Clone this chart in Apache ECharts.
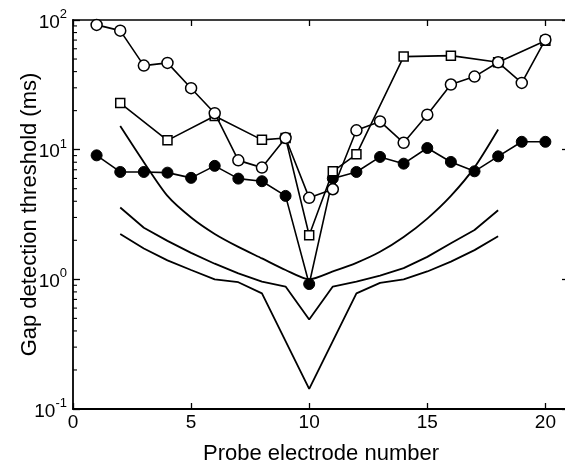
<!DOCTYPE html>
<html>
<head>
<meta charset="utf-8">
<script src="https://cdn.jsdelivr.net/npm/echarts@6/dist/echarts.min.js"></script>
<style>
html,body{margin:0;padding:0;background:#fff;}
#c{width:565px;height:464px;}
</style>
</head>
<body>
<div id="c"></div>
<script>
// ---- data ----
const xTickLabels = [0, 5, 10, 15, 20];
const yTickValues = [0.1, 1, 10, 100];

const openCircleX = [1,2,3,4,5,6,7,8,9,10,11,12,13,14,15,16,17,18,19,20];
const openCircleY = [91.7,82.8,44.5,46.7,29.8,19.1,8.27,7.27,12.3,4.25,4.95,14.1,16.5,11.3,18.6,31.8,36.6,47.2,32.7,70.5];

const openSquareX = [2,4,6,8,9,10,11,12,14,16,18,20];
const openSquareY = [22.9,11.8,18.2,11.9,12.3,2.19,6.81,9.2,52.2,53.1,47.2,69.3];

const filledCircleX = [1,2,3,4,5,6,7,8,9,10,11,12,13,14,15,16,17,18,19,20];
const filledCircleY = [9.04,6.73,6.73,6.65,6.06,7.5,5.98,5.71,4.4,0.92,6.0,6.73,8.79,7.8,10.3,8.04,6.81,8.88,11.5,11.5];

const curveX = [2,3,4,5,6,7,8,9,10,11,12,13,14,15,16,17,18];
const curveUpper = [15.2,8.0,4.4,3.0,2.24,1.78,1.45,1.18,1.0,1.15,1.34,1.63,2.12,2.94,4.4,7.3,14.3];
const curveMiddle = [3.58,2.5,1.98,1.6,1.32,1.11,0.96,0.88,0.49,0.88,0.96,1.07,1.22,1.49,1.9,2.4,3.41];
const curveLower = [2.24,1.73,1.4,1.18,1.0,0.95,0.78,0.334,0.143,0.334,0.78,0.94,1.0,1.15,1.37,1.68,2.15];

// log-axis minor tick positions (axis decoration)
const minorTickValues = [0.2,0.3,0.4,0.5,0.6,0.7,0.8,0.9,2,3,4,5,6,7,8,9,20,30,40,50,60,70,80,90];

const X_MIN = 0, X_MAX = 21;

function pairs(xs, ys){ return xs.map((x,i)=>[x, ys[i]]); }

const FONT = '"Liberation Sans", Arial, sans-serif';

const chart = echarts.init(document.getElementById('c'), null, {renderer:'canvas'});

const lineStyle = {color:'#000', width:1.6};

const option = {
  backgroundColor:'#fff',
  animation:false,
  grid:{left:73, right:-4, top:20, bottom:55, containLabel:false, outerBoundsMode:'none'},
  xAxis:[{
    type:'value', min:X_MIN, max:X_MAX, interval:5, position:'bottom',
    name:'Probe electrode number', nameLocation:'middle', nameGap:34, nameMoveOverlap:false,
    nameTextStyle:{fontFamily:FONT, fontSize:22, color:'#000'},
    axisLine:{show:true, onZero:false, lineStyle:{color:'#000', width:1.8}},
    axisTick:{show:true, inside:true, length:6, lineStyle:{color:'#000', width:1.3}},
    axisLabel:{fontFamily:FONT, fontSize:19, color:'#000', margin:4, showMaxLabel:false,
      formatter:function(v){ return xTickLabels.indexOf(v) >= 0 ? String(v) : ''; }},
    splitLine:{show:false}
  },{
    type:'value', min:X_MIN, max:X_MAX, interval:5, position:'top',
    axisLine:{show:true, onZero:false, lineStyle:{color:'#000', width:1.5}},
    axisTick:{show:true, inside:true, length:6, lineStyle:{color:'#000', width:1.3}},
    axisLabel:{show:false}, splitLine:{show:false}
  }],
  yAxis:[{
    type:'log', logBase:10, min:0.1, max:100, position:'left',
    name:'Gap detection threshold (ms)', nameLocation:'middle', nameGap:32, nameMoveOverlap:false,
    nameTextStyle:{fontFamily:FONT, fontSize:22, color:'#000'},
    axisLine:{show:true, onZero:false, lineStyle:{color:'#000', width:1.8}},
    axisTick:{show:true, inside:true, length:7, lineStyle:{color:'#000', width:1.3}},
    axisLabel:{
      margin:6, fontFamily:FONT, color:'#000',
      formatter:function(v){
        const e = Math.round(Math.log10(v));
        return '{b|10}{s|' + e + '}';
      },
      rich:{
        b:{fontFamily:FONT, fontSize:19, color:'#000', lineHeight:24, verticalAlign:'bottom'},
        s:{fontFamily:FONT, fontSize:13, color:'#000', lineHeight:24, verticalAlign:'top'}
      }
    },
    splitLine:{show:false}
  },{
    type:'log', logBase:10, min:0.1, max:100, position:'right',
    axisLine:{show:true, onZero:false, lineStyle:{color:'#000', width:1.5}},
    axisTick:{show:true, inside:true, length:7, lineStyle:{color:'#000', width:1.3}},
    axisLabel:{show:false}, splitLine:{show:false}
  }],
  series:[
    {
      type:'custom', name:'minorTicks', xAxisIndex:0, yAxisIndex:0, silent:true, z:1,
      data: minorTickValues.map(v=>[X_MIN, v]),
      renderItem:function(params, api){
        const v = api.value(1);
        const pL = api.coord([X_MIN, v]);
        const pR = api.coord([X_MAX, v]);
        return {type:'group', children:[
          {type:'line', shape:{x1:pL[0], y1:pL[1], x2:pL[0]+4, y2:pL[1]}, style:{stroke:'#000', lineWidth:1.1}},
          {type:'line', shape:{x1:pR[0]-4, y1:pR[1], x2:pR[0], y2:pR[1]}, style:{stroke:'#000', lineWidth:1.1}}
        ]};
      }
    },
    {type:'line', name:'upper', data:pairs(curveX, curveUpper), showSymbol:false, symbol:'none',
      smooth:0.25, lineStyle:{color:'#000', width:1.8}, z:2},
    {type:'line', name:'middle', data:pairs(curveX, curveMiddle), showSymbol:false, symbol:'none',
      lineStyle:{color:'#000', width:1.8}, z:2},
    {type:'line', name:'lower', data:pairs(curveX, curveLower), showSymbol:false, symbol:'none',
      lineStyle:{color:'#000', width:1.8}, z:2},
    {type:'line', name:'filled', data:pairs(filledCircleX, filledCircleY), symbol:'circle', symbolSize:11,
      lineStyle:lineStyle, itemStyle:{color:'#000', borderColor:'#000', borderWidth:1}, z:3},
    {type:'line', name:'openSquare', data:pairs(openSquareX, openSquareY), symbol:'rect', symbolSize:9,
      lineStyle:lineStyle, itemStyle:{color:'#fff', borderColor:'#000', borderWidth:1.5}, z:4},
    {type:'line', name:'openCircle', data:pairs(openCircleX, openCircleY), symbol:'circle', symbolSize:11,
      lineStyle:lineStyle, itemStyle:{color:'#fff', borderColor:'#000', borderWidth:1.5}, z:5}
  ]
};
chart.setOption(option);
</script>
</body>
</html>
